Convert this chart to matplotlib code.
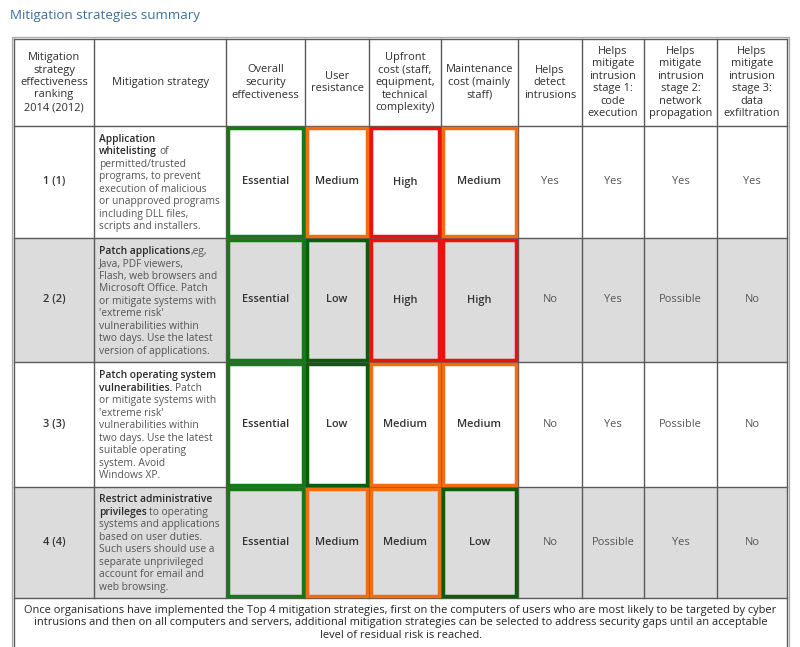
import matplotlib
matplotlib.use("Agg")
import matplotlib.pyplot as plt
from matplotlib.patches import Rectangle

# ---------------- data ----------------
title = "Mitigation strategies summary"
headers = [
    ["Mitigation", "strategy", "effectiveness", "ranking", "2014 (2012)"],
    ["Mitigation strategy"],
    ["Overall", "security", "effectiveness"],
    ["User", "resistance"],
    ["Upfront", "cost (staff,", "equipment,", "technical", "complexity)"],
    ["Maintenance", "cost (mainly", "staff)"],
    ["Helps", "detect", "intrusions"],
    ["Helps", "mitigate", "intrusion", "stage 1:", "code", "execution"],
    ["Helps", "mitigate", "intrusion", "stage 2:", "network", "propagation"],
    ["Helps", "mitigate", "intrusion", "stage 3:", "data", "exfiltration"],
]
rankings = ["1 (1)", "2 (2)", "3 (3)", "4 (4)"]
strategies = [
    ["**Application**", "**whitelisting** of", "permitted/trusted", "programs, to prevent",
     "execution of malicious", "or unapproved programs", "including DLL files,",
     "scripts and installers."],
    ["**Patch applications**,eg,", "Java, PDF viewers,", "Flash, web browsers and",
     "Microsoft Office. Patch", "or mitigate systems with", "'extreme risk'",
     "vulnerabilities within", "two days. Use the latest", "version of applications."],
    ["**Patch operating system**", "**vulnerabilities.** Patch", "or mitigate systems with",
     "'extreme risk'", "vulnerabilities within", "two days. Use the latest",
     "suitable operating", "system. Avoid", "Windows XP."],
    ["**Restrict administrative**", "**privileges** to operating", "systems and applications",
     "based on user duties.", "Such users should use a", "separate unprivileged",
     "account for email and", "web browsing."],
]
effectiveness = ["Essential", "Essential", "Essential", "Essential"]
user_resistance = ["Medium", "Low", "Low", "Medium"]
upfront_cost = ["High", "High", "Medium", "Medium"]
maintenance_cost = ["Medium", "High", "Medium", "Low"]
helps_detect = ["Yes", "No", "No", "No"]
stage1 = ["Yes", "Yes", "Yes", "Possible"]
stage2 = ["Yes", "Possible", "Possible", "Yes"]
stage3 = ["Yes", "No", "No", "No"]
footer = [
    "Once organisations have implemented the Top 4 mitigation strategies, first on the computers of users who are most likely to be targeted by cyber",
    "intrusions and then on all computers and servers, additional mitigation strategies can be selected to address security gaps until an acceptable",
    "level of residual risk is reached.",
]

# ---------------- layout / style ----------------
col_edges = [14, 94, 226, 305, 369, 441, 518, 582, 644, 717, 787]
row_edges = [39, 126, 238, 362, 487, 598, 652]
line_h = 12.5
FS = 7.9
FS_DESC = 7.4
FAM = ["Open Sans", "DejaVu Sans"]
BOLD = "semibold"
rating_colors = {"Essential": "#147a14", "Low": "#0b5c0b",
                 "Medium": "#f26c10", "High": "#ec1010"}
grid_c = "#5a5a5a"

fig = plt.figure(figsize=(8, 6.47), dpi=100)
ax = fig.add_axes([0, 0, 1, 1])
ax.set_xlim(0, 800)
ax.set_ylim(647, 0)
ax.axis("off")
renderer = fig.canvas.get_renderer()

def txt(x, y, s, **kw):
    kw.setdefault("fontsize", FS)
    kw.setdefault("family", FAM)
    return ax.text(x, y, s, **kw)

# title
txt(10, 16, title, fontsize=9.6, color="#3d6f9c", va="center", ha="left")

# outer light border
ax.add_patch(Rectangle((12, 37), 777, 640, fill=False, edgecolor="#a8a8a8", lw=0.9))

# row backgrounds
for i in range(4):
    if i % 2 == 1:
        ax.add_patch(Rectangle((col_edges[0], row_edges[i + 1]),
                               col_edges[-1] - col_edges[0],
                               row_edges[i + 2] - row_edges[i + 1],
                               facecolor="#dcdcdc", edgecolor="none", zorder=0))

# grid
for x in col_edges:
    ax.plot([x, x], [row_edges[0], row_edges[-2] if x not in (col_edges[0], col_edges[-1]) else row_edges[-1]],
            color=grid_c, lw=1.0, zorder=1)
for y in row_edges[:-1]:
    ax.plot([col_edges[0], col_edges[-1]], [y, y], color=grid_c, lw=1.0, zorder=1)

# headers
for j, lines in enumerate(headers):
    cx = (col_edges[j] + col_edges[j + 1]) / 2
    cy = (row_edges[0] + row_edges[1]) / 2
    n = len(lines)
    for k, ln in enumerate(lines):
        y = cy + (k - (n - 1) / 2) * line_h
        txt(cx, y, ln, ha="center", va="center", color="#2e2e2e")

def space_w(bold):
    w = BOLD if bold else "normal"
    a = txt(0, 0, "x x", fontweight=w, fontsize=FS_DESC)
    b = txt(0, 0, "xx", fontweight=w, fontsize=FS_DESC)
    d = a.get_window_extent(renderer).width - b.get_window_extent(renderer).width
    a.remove(); b.remove()
    return d

SP = space_w(False)

def parse(line):
    parts = line.split("**")
    segs = []
    for k, p in enumerate(parts):
        if p:
            segs.append((p, k % 2 == 1))
    return segs

def draw_rich(x, y, line):
    for seg, bold in parse(line):
        lead = len(seg) - len(seg.lstrip(" "))
        x += lead * SP
        s = seg.strip(" ")
        t = txt(x, y, s, ha="left", va="baseline", fontsize=FS_DESC,
                fontweight=BOLD if bold else "normal",
                color="#2a2a2a" if bold else "#555555")
        x += t.get_window_extent(renderer).width
        trail = len(seg) - len(seg.rstrip(" "))
        x += trail * SP

value_cols = [effectiveness, user_resistance, upfront_cost, maintenance_cost,
              helps_detect, stage1, stage2, stage3]

for i in range(4):
    y0, y1 = row_edges[i + 1], row_edges[i + 2]
    cy = (y0 + y1) / 2
    # ranking
    txt((col_edges[0] + col_edges[1]) / 2, cy, rankings[i], ha="center", va="center",
        fontweight=BOLD, color="#333333")
    # strategy description
    lines = strategies[i]
    n = len(lines)
    for k, ln in enumerate(lines):
        y = cy + (k - (n - 1) / 2) * line_h + 3.6
        draw_rich(col_edges[1] + 5, y, ln)
    # values
    for j, col in enumerate(value_cols):
        x0, x1 = col_edges[j + 2], col_edges[j + 3]
        val = col[i]
        if j < 4:
            c = rating_colors[val]
            ins = 1.7
            ax.add_patch(Rectangle((x0 + ins, y0 + ins), x1 - x0 - 2 * ins, y1 - y0 - 2 * ins,
                                   fill=False, edgecolor=c, lw=2.5, zorder=3))
            txt((x0 + x1) / 2, cy, val, ha="center", va="center", fontweight=BOLD,
                color="#333333", zorder=4)
        else:
            txt((x0 + x1) / 2, cy, val, ha="center", va="center", color="#555555")

# footer
fy0 = row_edges[5]
for k, ln in enumerate(footer):
    txt((col_edges[0] + col_edges[-1]) / 2, fy0 + 12 + k * line_h, ln, ha="center",
        va="center", color="#222222")

fig.savefig("out.png", dpi=100)
